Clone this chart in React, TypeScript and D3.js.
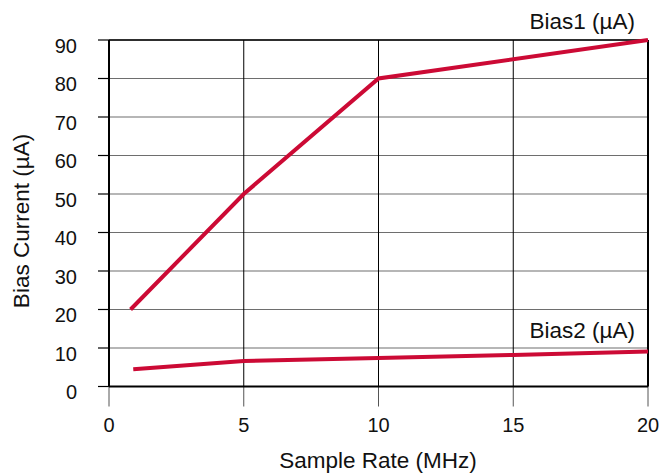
import React from "react";
import * as d3 from "d3";

const xTicks = [0, 5, 10, 15, 20];
const yTicks = [0, 10, 20, 30, 40, 50, 60, 70, 80, 90];
const bias1X = [0.8, 5, 10, 20];
const bias1Y = [20, 50, 80, 90];
const bias2X = [0.9, 5, 10, 15, 20];
const bias2Y = [4.5, 6.6, 7.4, 8.2, 9.1];
const seriesLabels = ["Bias1 (µA)", "Bias2 (µA)"];
const xTitle = "Sample Rate (MHz)";
const yTitle = "Bias Current (µA)";

export default function App() {
  const W = 659, H = 473;
  const L = 109, R = 648, T = 40, B = 386.5;
  const x = d3.scaleLinear().domain([0, 20]).range([L, R]);
  const y = d3.scaleLinear().domain([0, 90]).range([B, T]);
  const line = d3.line<[number, number]>().x(d => x(d[0])).y(d => y(d[1]));
  const s1 = bias1X.map((v, i) => [v, bias1Y[i]] as [number, number]);
  const s2 = bias2X.map((v, i) => [v, bias2Y[i]] as [number, number]);
  const font = "'Liberation Sans', Arial, sans-serif";
  const red = "#cc0a35";
  return (
    <svg width={W} height={H} style={{ position: "absolute", left: 0, top: 0, background: "#fff" }} fontFamily={font}>
      {yTicks.map(t => (
        <g key={"y" + t}>
          <line x1={L} x2={R} y1={y(t)} y2={y(t)} stroke="#6e6e6e" strokeWidth={1.2} />
          <line x1={L - 11} x2={L} y1={y(t)} y2={y(t)} stroke="#000" strokeWidth={1.2} />
          <text x={77} y={y(t) + 12.5} fontSize={20} textAnchor="end" fill="#111">{t}</text>
        </g>
      ))}
      {xTicks.map(t => (
        <g key={"x" + t}>
          <line x1={x(t)} x2={x(t)} y1={T} y2={B} stroke="#000" strokeWidth={1} />
          <line x1={x(t)} x2={x(t)} y1={B} y2={B + 20} stroke="#555" strokeWidth={1} />
          <text x={x(t)} y={431.5} fontSize={20} textAnchor="middle" fill="#111">{t}</text>
        </g>
      ))}
      <line x1={L} x2={R} y1={T} y2={T} stroke="#000" strokeWidth={1.5} />
      <line x1={L} x2={R} y1={B} y2={B} stroke="#000" strokeWidth={2} />
      <line x1={L} x2={L} y1={T} y2={B} stroke="#000" strokeWidth={2} />
      <line x1={R} x2={R} y1={T} y2={B} stroke="#000" strokeWidth={2} />
      <path d={line(s1) || ""} fill="none" stroke={red} strokeWidth={4} />
      <path d={line(s2) || ""} fill="none" stroke={red} strokeWidth={4} />
      <text x={635} y={29} fontSize={22.5} textAnchor="end" fill="#111">{seriesLabels[0]}</text>
      <text x={635} y={338} fontSize={22.5} textAnchor="end" fill="#111">{seriesLabels[1]}</text>
      <text x={378} y={468} fontSize={22.5} textAnchor="middle" fill="#111">{xTitle}</text>
      <text transform={`translate(29,${221}) rotate(-90)`} fontSize={22.5} textAnchor="middle" fill="#111">{yTitle}</text>
    </svg>
  );
}
